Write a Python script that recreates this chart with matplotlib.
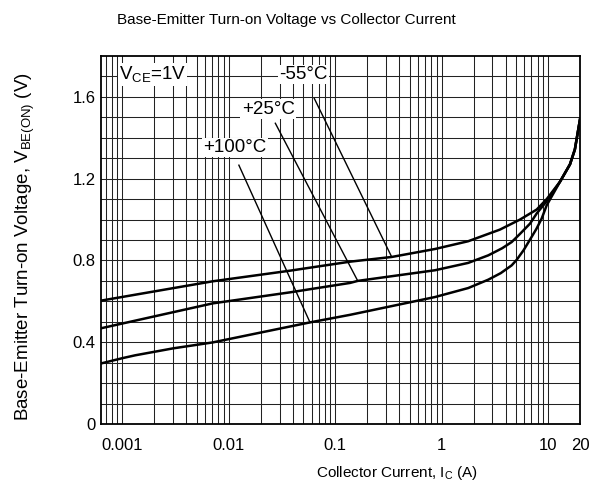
import numpy as np
import matplotlib
matplotlib.use('Agg')
import matplotlib.pyplot as plt

plt.rcParams['font.family'] = ['Liberation Sans', 'DejaVu Sans']
plt.rcParams['mathtext.fontset'] = 'custom'
plt.rcParams['mathtext.rm'] = 'Liberation Sans'
plt.rcParams['mathtext.it'] = 'Liberation Sans'

# collector current (A) and V_BE(on) (V)
ic_m55 = [0.00064, 0.00706, 0.0377, 0.138, 0.340, 0.867, 1.78, 3.54, 5.46, 7.84, 9.73, 12.97, 16.1, 17.9, 20.0]
vbe_m55 = [0.604, 0.698, 0.750, 0.794, 0.817, 0.856, 0.894, 0.951, 1.0, 1.049, 1.10, 1.185, 1.27, 1.343, 1.49]

ic_25 = [0.00064, 0.00706, 0.0377, 0.138, 0.163, 0.867, 1.78, 2.75, 3.72, 4.56, 5.46, 6.78, 7.84, 9.73, 12.97, 16.1, 17.9, 20.0]
vbe_25 = [0.469, 0.590, 0.644, 0.690, 0.700, 0.752, 0.788, 0.825, 0.86, 0.89, 0.93, 0.98, 1.03, 1.09, 1.185, 1.27, 1.343, 1.49]

ic_100 = [0.00064, 0.001, 0.00132, 0.003, 0.00706, 0.058, 0.138, 0.867, 1.78, 2.75, 3.6, 4.56, 5.08, 5.9, 6.78, 7.8, 8.73, 9.73, 12.97, 16.1, 17.9, 20.0]
vbe_100 = [0.297, 0.322, 0.336, 0.370, 0.399, 0.497, 0.534, 0.621, 0.665, 0.706, 0.738, 0.776, 0.803, 0.85, 0.902, 0.955, 1.005, 1.07, 1.185, 1.27, 1.343, 1.49]

xticks = [0.001, 0.01, 0.1, 1, 10, 20]
xtick_labels = ['0.001', '0.01', '0.1', '1', '10', '20']
yticks = [0, 0.4, 0.8, 1.2, 1.6]
ytick_labels = ['0', '0.4', '0.8', '1.2', '1.6']

# (label, text position, leader start, leader end)
notes = [
    ('-55°C', (0.0505, 1.71), (0.0637, 1.592), (0.340, 0.817)),
    ('+25°C', (0.0235, 1.54), (0.0274, 1.471), (0.163, 0.700)),
    ('+100°C', (0.01148, 1.353), (0.01245, 1.266), (0.058, 0.497)),
]

fig = plt.figure(figsize=(6.08, 4.9), dpi=100)
ax = fig.add_axes([101/608, 1 - 424/490, 479/608, 368/490])

# grid
vgrid = []
for dec in [0.0001, 0.001, 0.01, 0.1, 1, 10]:
    for k in range(1, 10):
        vgrid.append(dec*k)
for g in vgrid:
    if 0.00063 < g < 20:
        ax.axvline(g, color='#222222', lw=0.75, zorder=1)
for v in np.arange(0.1, 1.8, 0.1):
    ax.axhline(v, color='#222222', lw=0.75, zorder=1)

for ic, vbe in [(ic_m55, vbe_m55), (ic_25, vbe_25), (ic_100, vbe_100)]:
    ax.plot(ic, vbe, color='black', lw=1.8, zorder=3, solid_joinstyle='round')

for label, tpos, p0, p1 in notes:
    ax.plot([p0[0], p1[0]], [p0[1], p1[1]], color='black', lw=1.0, zorder=3)
    ax.text(tpos[0], tpos[1], label, ha='center', va='center', fontsize=13.5,
            bbox=dict(facecolor='white', edgecolor='none', pad=1.0), zorder=4)

ax.text(0.00192, 1.71, r'V$_{\rm CE}$=1V', ha='center', va='center', fontsize=13.5,
        bbox=dict(facecolor='white', edgecolor='none', pad=1.0), zorder=4)

ax.set_xscale('log')
ax.set_xlim(0.00063, 20)
ax.set_ylim(0, 1.8)
ax.set_xticks(xticks)
ax.set_xticklabels(xtick_labels)
ax.xaxis.set_minor_locator(matplotlib.ticker.NullLocator())
ax.set_yticks(yticks)
ax.set_yticklabels(ytick_labels)
ax.tick_params(length=0, labelsize=12)
ax.tick_params(axis='x', pad=10)
ax.tick_params(axis='y', pad=4)
for s in ax.spines.values():
    s.set_linewidth(1.3)

fig.text(286/608, 1 - 20/490, 'Base-Emitter Turn-on Voltage vs Collector Current',
         ha='center', va='center', fontsize=11)
fig.text(397/608, 1 - 473/490, r'Collector Current, I$_{\rm C}$ (A)',
         ha='center', va='center', fontsize=11)
fig.text(25/608, 1 - 247/490, r'Base-Emitter Turn-on Voltage, V$_{\rm BE(ON)}$ (V)',
         ha='center', va='center', fontsize=13.5, rotation=90)

fig.savefig('out.png', dpi=100)
